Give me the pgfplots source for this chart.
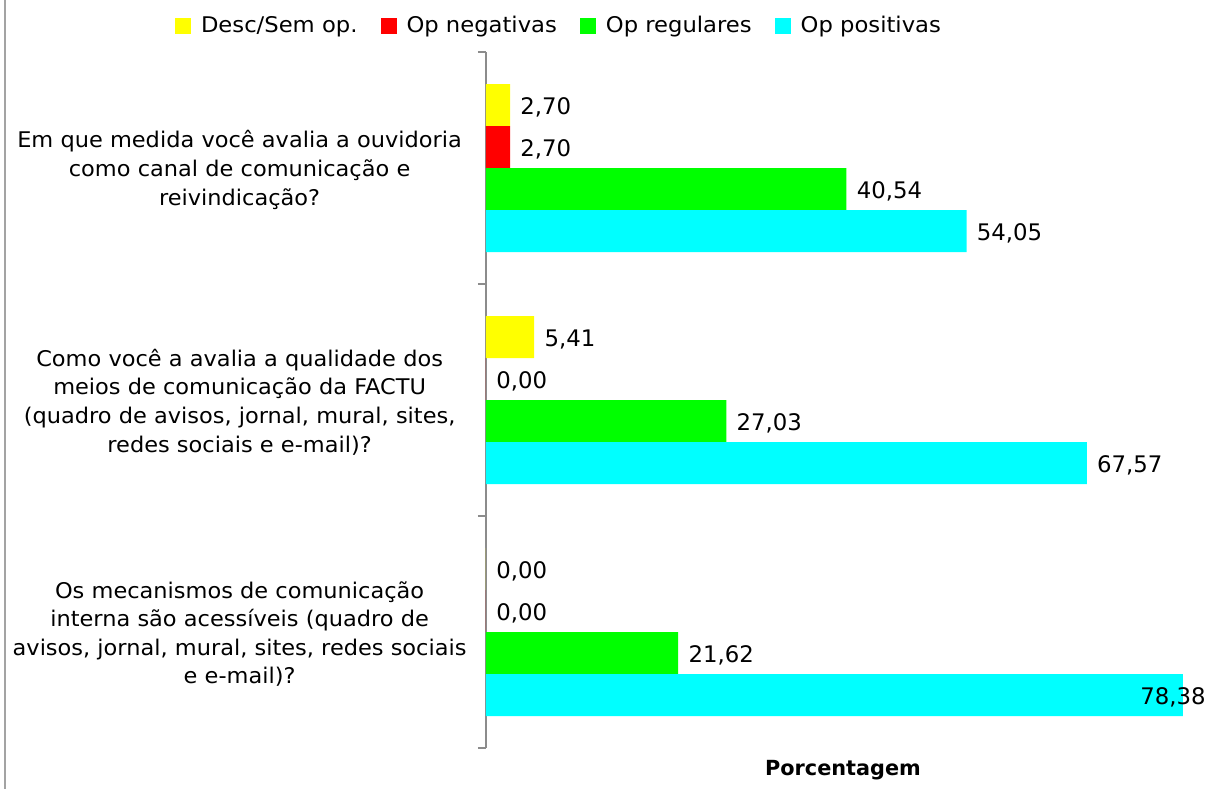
\documentclass[border=0pt]{standalone}
\usepackage{pgfplots}
\pgfplotsset{compat=1.18}
\usepackage{fontspec}
\setmainfont{DejaVu Sans}
\newfontfamily\catfont[FakeStretch=1.04]{DejaVu Sans}
\newfontfamily\legfont[FakeStretch=1.05]{DejaVu Sans}
\definecolor{cY}{HTML}{FFFF00}
\definecolor{cR}{HTML}{FF0000}
\definecolor{cG}{HTML}{00FF00}
\definecolor{cC}{HTML}{00FFFF}
\definecolor{axgray}{HTML}{8C8C8C}
\begin{document}
\begin{tikzpicture}
\useasboundingbox (0,0) rectangle (605.5pt,-394.5pt);
\draw[axgray!80, line width=0.7pt] (2.5pt,0) -- (2.5pt,-394.5pt);
\begin{axis}[
  at={(243pt,-374pt)}, anchor=south west,
  scale only axis, width=357pt, height=348pt,
  xbar, bar width=0.181,
  xmin=0, xmax=80.3,
  ymin=-0.5, ymax=2.5, y dir=reverse,
  ytick={0,1,2},
  yticklabels={
    {Em que medida você avalia a ouvidoria\\como canal de comunicação e\\reivindicação?},
    {Como você a avalia a qualidade dos\\meios de comunicação da FACTU\\(quadro de avisos, jornal, mural, sites,\\redes sociais e e-mail)?},
    {Os mecanismos de comunicação\\interna são acessíveis (quadro de\\avisos, jornal, mural, sites, redes sociais\\e e-mail)?}},
  yticklabel style={font=\catfont\fontsize{10.8}{14.3}\selectfont, align=center, text width=228pt, inner xsep=0pt, xshift=-9pt, yshift=-1pt},
  minor ytick={-0.5,0.5,1.5,2.5},
  major tick length=0pt, minor tick length=4pt, tick align=outside,
  minor tick style={axgray, line width=0.7pt},
  xtick=\empty,
  axis lines*=left,
  axis line style={-},
  y axis line style={axgray, line width=0.7pt},
  x axis line style={draw=none},
  xlabel={\textbf{Porcentagem}},
  xlabel style={font=\fontsize{10.4}{12}\selectfont, at={(axis description cs:0.5,0)}, anchor=center, yshift=-11pt},
  point meta=x,
  nodes near coords={\pgfmathprintnumber[fixed,fixed zerofill,precision=2,use comma,assume math mode=true]{\pgfplotspointmeta}},
  nodes near coords align={horizontal},
  every node near coord/.append style={font=\fontsize{11.4}{13}\selectfont, black, anchor=west, inner xsep=0pt, xshift=5pt, yshift=-1.2pt},
  legend columns=4,
  legend style={at={(0.1036,1.037)}, anchor=center, draw=none, fill=none,
    font=\legfont\fontsize{10.8}{12}\selectfont,
    /tikz/every even column/.append style={column sep=9.5pt}},
  legend image code/.code={\fill[#1] (0pt,-4pt) rectangle (8pt,4pt); \path (11pt,0pt);},
]
\addplot[draw=none, fill=cY, bar shift=-0.2715] coordinates {(2.70,0) (5.41,1) (0.00,2)};
\addplot[draw=none, fill=cR, bar shift=-0.0905] coordinates {(2.70,0) (0.00,1) (0.00,2)};
\addplot[draw=none, fill=cG, bar shift=0.0905] coordinates {(40.54,0) (27.03,1) (21.62,2)};
\addplot[draw=none, fill=cC, bar shift=0.2715,
  visualization depends on={value \thisrow{anc} \as \anc},
  visualization depends on={\thisrow{sh} \as \sh},
  every node near coord/.append style={anchor=\anc, xshift=\sh pt}]
  table[x=x, y=y] {
x y anc sh
54.05 0 west 0
67.57 1 west 0
78.38 2 east 6.5
};
\legend{Desc/Sem op., Op negativas, Op regulares, Op positivas}
\end{axis}
\end{tikzpicture}
\end{document}
